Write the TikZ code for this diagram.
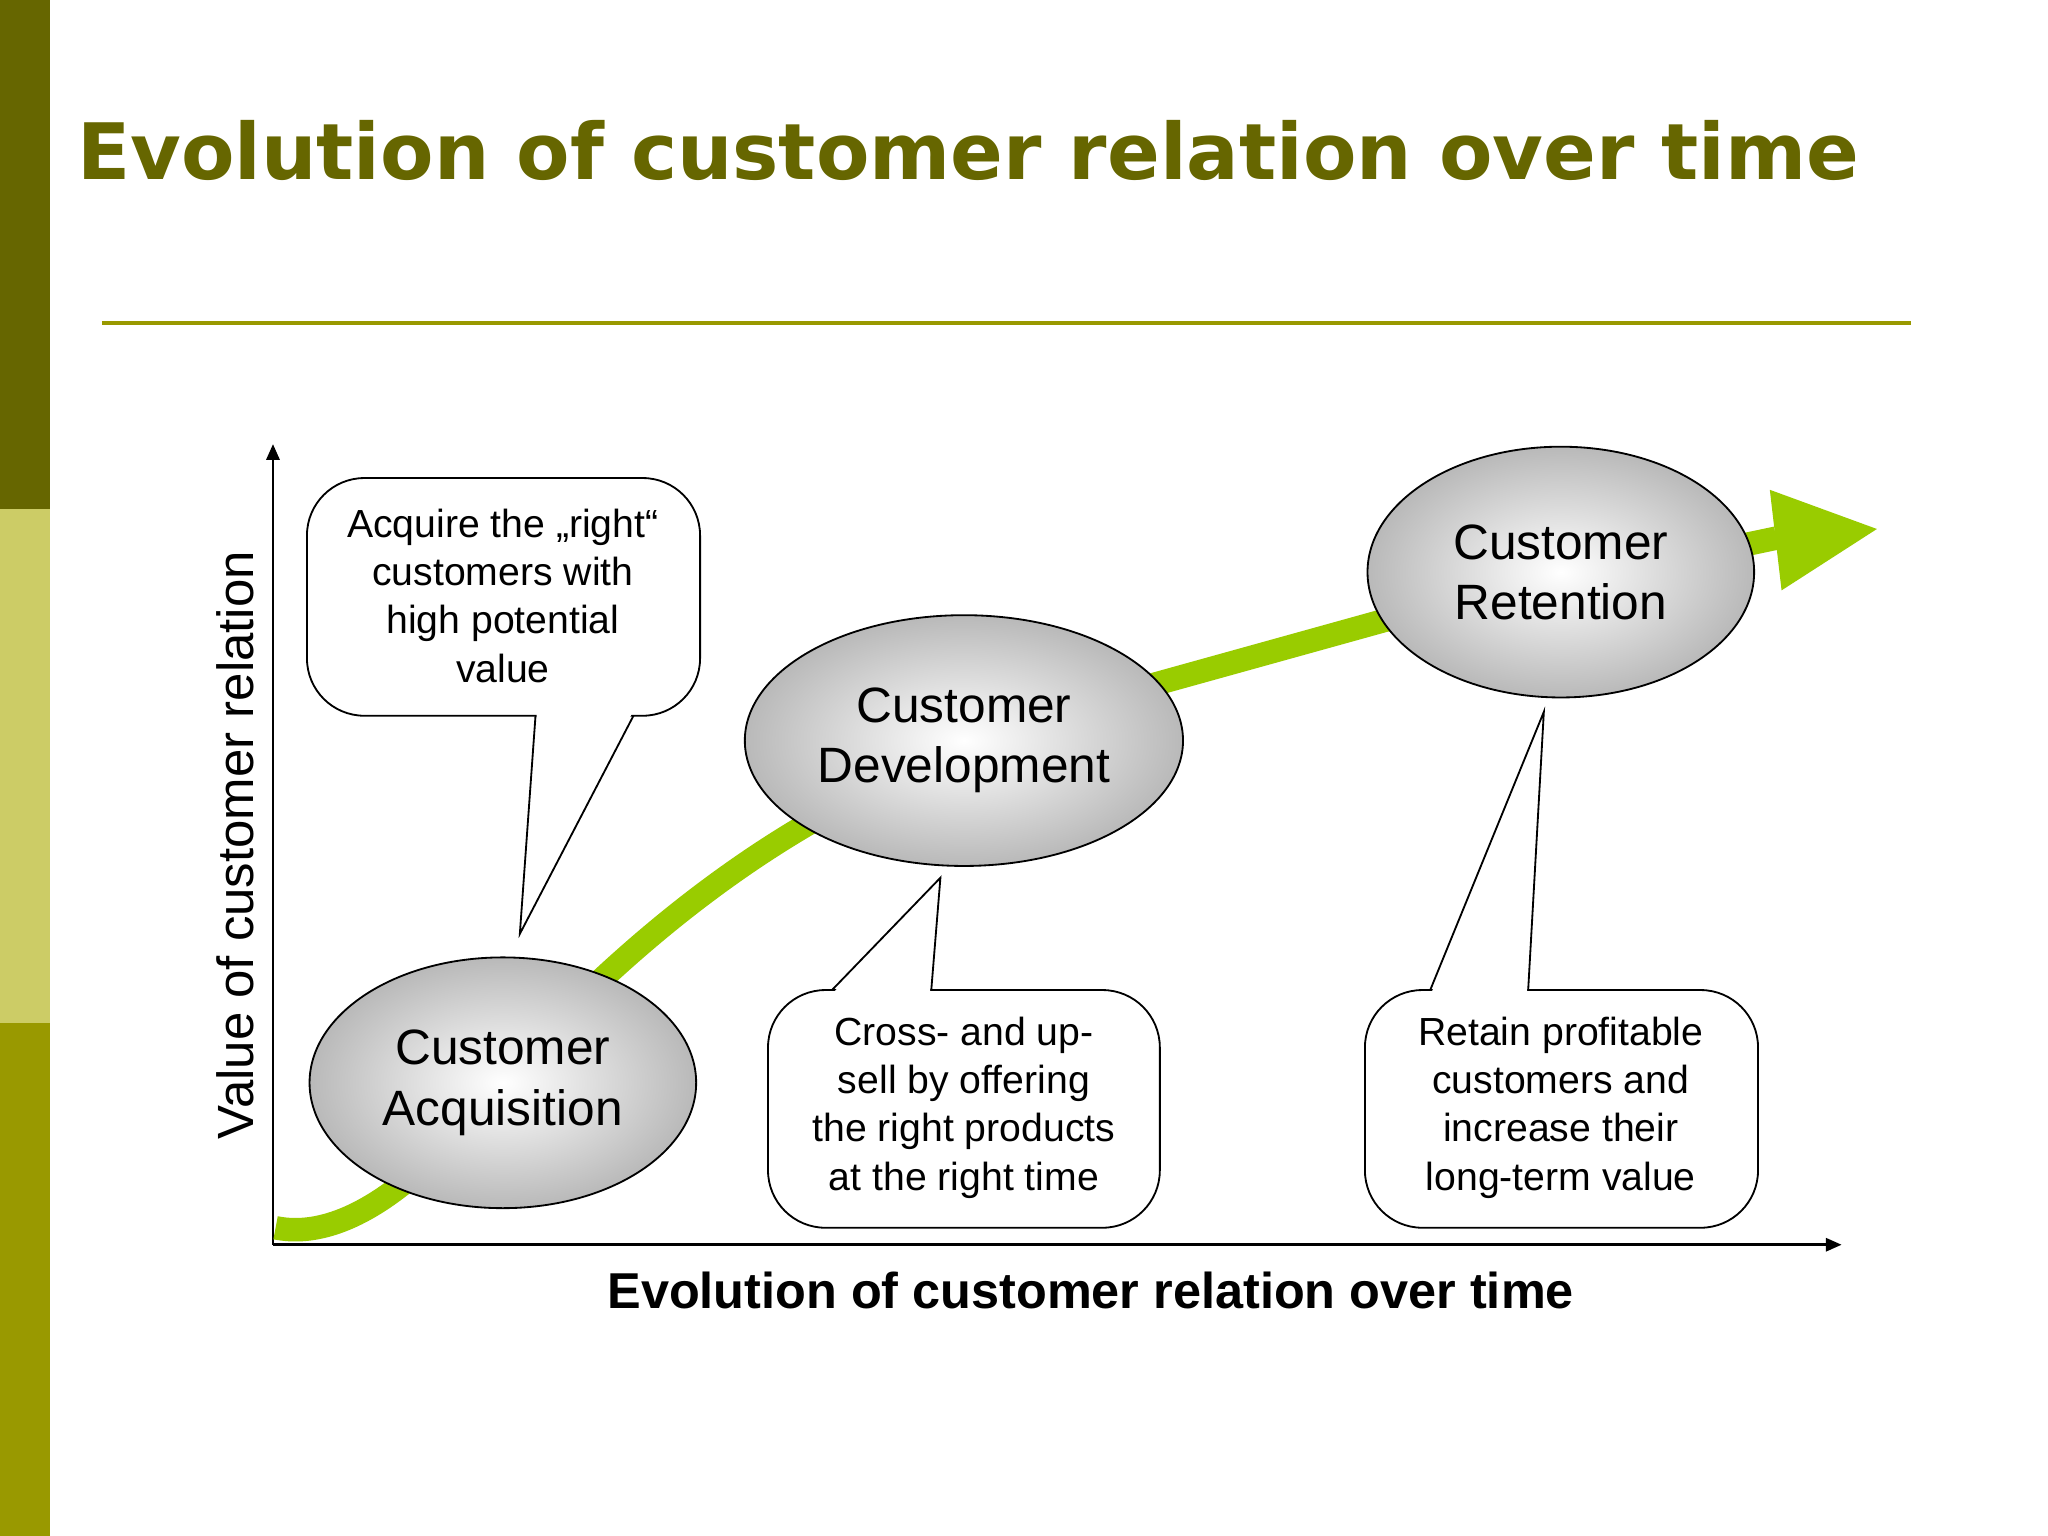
\documentclass[tikz,border=0pt]{standalone}
\usepackage{fontspec}
\setmainfont{Liberation Sans}
\newfontfamily\titlefont{DejaVu Sans}
\usetikzlibrary{arrows.meta,shapes.geometric}
\definecolor{olive1}{HTML}{666600}
\definecolor{olive2}{HTML}{CCCC66}
\definecolor{olive3}{HTML}{999900}
\definecolor{grn}{HTML}{99CC00}
\tikzset{
  phase/.style={ellipse,draw=black,line width=0.7pt,minimum width=148pt,minimum height=96pt,
    inner color=white,outer color=gray!55,align=center,font=\fontsize{19}{23}\selectfont},
  ctext/.style={align=center,font=\fontsize{15}{18.5}\selectfont},
  callout/.style={draw=black,line width=0.7pt,fill=white},
}
\begin{document}
\begin{tikzpicture}[x=0.5pt,y=-0.5pt]
\useasboundingbox (0,0) rectangle (1568,1176);
\fill[white] (0,0) rectangle (1568,1176);
\fill[olive1] (0,0) rectangle (38,390);
\fill[olive2] (0,390) rectangle (38,783);
\fill[olive3] (0,783) rectangle (38,1176);
\node[anchor=west,text=olive1,font=\titlefont\bfseries\fontsize{29.8}{33}\selectfont] (title) at (52,115) {Evolution of customer relation over time};
\draw[olive3,line width=1.5pt] (78,247) coordinate (r1) -- (1463,247) coordinate (r2);
% axes
\coordinate (o) at (209,953);
\coordinate (ytop) at (209,340);
\coordinate (xend) at (1410,953);
\draw[line width=1pt,-{Triangle[length=6pt,width=5pt]}] (o) -- (ytop);
\draw[line width=1pt,-{Triangle[length=6pt,width=5pt]}] (o) -- (xend);
\node[rotate=90,font=\fontsize{19.5}{22}\selectfont] (ylab) at (180,647) {Value of customer relation};
\node[font=\bfseries\fontsize{19.3}{22}\selectfont] (xlab) at (835,988) {Evolution of customer relation over time};
% green curve
\coordinate (c0) at (211,940);
\coordinate (c2) at (620,630);
\coordinate (c3) at (1360,412);
\coordinate (tip) at (1437,405);
\draw[grn,line width=9pt] (c0) .. controls (260,950) and (320,910) .. (380,830)
  .. controls (420,790) and (500,700) .. (c2) -- (880,525) -- (1060,475) -- (c3);
\fill[grn] (1355,375) -- (tip) -- (1364,452) -- cycle;
% phases
\node[phase] (acq) at (385,829) {Customer\\Acquisition};
\node[phase] (dev) at (738,567) {Customer\\Development};
\node[phase] (ret) at (1195,438) {Customer\\Retention};
% callouts
\draw[callout,rounded corners=22pt] (235,366) rectangle (536,548);
\fill[white] (411,546) -- (398,715) -- (484,546) -- cycle;
\draw[line width=0.7pt,line join=miter] (410,548) -- (398,715) -- (485,548);
\draw[callout,rounded corners=22pt] (588,758) rectangle (888,940);
\fill[white] (638,760) -- (720,672) -- (712,760) -- cycle;
\draw[line width=0.7pt] (637,758) -- (720,672) -- (713,758);
\draw[callout,rounded corners=22pt] (1045,758) rectangle (1346,940);
\fill[white] (1096,760) -- (1182,545) -- (1169,760) -- cycle;
\draw[line width=0.7pt] (1095,758) -- (1182,545) -- (1170,758);
\node[ctext] (t1) at (385,456) {Acquire the „right“\\customers with\\high potential\\value};
\node[ctext] (t2) at (738,848) {Cross- and up-\\sell by offering\\the right products\\at the right time};
\node[ctext] (t3) at (1195,848) {Retain profitable\\customers and\\increase their\\long-term value};
\end{tikzpicture}
\end{document}
